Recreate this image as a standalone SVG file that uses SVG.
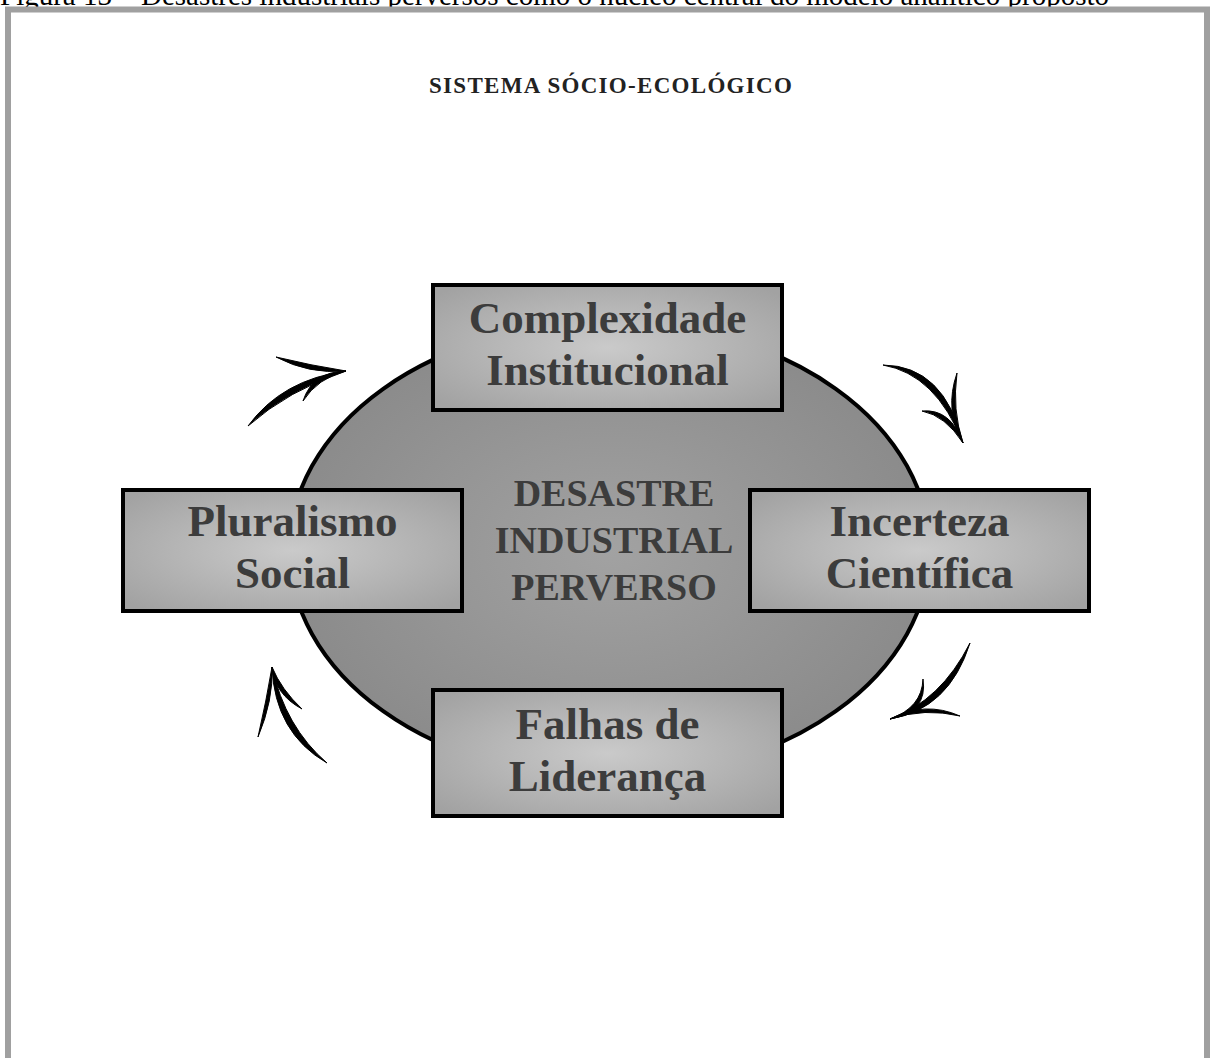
<svg xmlns="http://www.w3.org/2000/svg" width="1213" height="1058" viewBox="0 0 1213 1058">
  <defs>
    <radialGradient id="boxFill" cx="50%" cy="50%" r="65%">
      <stop offset="0" stop-color="#cacaca"/>
      <stop offset="1" stop-color="#a2a2a2"/>
    </radialGradient>
    <radialGradient id="coreFill" cx="50%" cy="50%" r="55%">
      <stop offset="0" stop-color="#a2a2a2"/>
      <stop offset="1" stop-color="#898989"/>
    </radialGradient>
    <style>
      .caption { font-family: "Liberation Serif", "Times New Roman", serif; font-size: 29px; fill: #000; }
      .title { font-family: "Liberation Serif", "Times New Roman", serif; font-size: 23px; font-weight: bold; fill: #222; letter-spacing: 1.3px; }
      .box { fill: url(#boxFill); stroke: #000; stroke-width: 4; }
      .label { font-family: "Liberation Serif", "Times New Roman", serif; font-size: 45px; font-weight: bold; fill: #3c3c3c; text-anchor: middle; }
      .core-label { font-family: "Liberation Serif", "Times New Roman", serif; font-size: 38px; font-weight: bold; fill: #3c3c3c; text-anchor: middle; }
      .arrow path { fill: #000; stroke: #000; stroke-width: 1; stroke-linejoin: round; }
    </style>
  </defs>

  <rect width="1213" height="1058" fill="#fff"/>

  <!-- caption line, cut by the top edge -->
  <text class="caption" x="0" y="5">Figura 13 – Desastres industriais perversos como o núcleo central do modelo analítico proposto</text>

  <!-- outer frame -->
  <rect x="8" y="9.5" width="1199" height="1100" fill="none" stroke="#a0a0a0" stroke-width="6"/>

  <text class="title" x="429" y="93">SISTEMA SÓCIO-ECOLÓGICO</text>

  <!-- central core -->
  <g id="core">
    <ellipse cx="609.5" cy="550" rx="320" ry="228" fill="url(#coreFill)" stroke="#000" stroke-width="4"/>
    <text class="core-label" x="614" y="506">DESASTRE</text>
    <text class="core-label" x="614" y="553">INDUSTRIAL</text>
    <text class="core-label" x="614" y="600">PERVERSO</text>
  </g>

  <!-- cycle arrows: tapered shafts with curved barbs -->
  <g id="connectors" class="arrow">
    <!-- top-left, pointing up-right -->
    <path d="M248,426 Q288,390.5 346,371 Q282,379.5 248,426 Z"/>
    <path d="M276,357 Q309,374.5 346,371 Q311,365.5 276,357 Z"/>
    <path d="M303,401 Q317.6,378.2 346,371 Q312.4,371.8 303,401 Z"/>
    <!-- top-right, pointing down-right -->
    <path d="M883,365 Q935.8,374.3 963,443 Q944.2,365.7 883,365 Z"/>
    <path d="M957,373 Q944,410.3 963,443 Q952,409.7 957,373 Z"/>
    <path d="M922,411 Q945.3,415.6 963,443 Q950.7,408.4 922,411 Z"/>
    <!-- bottom-right, pointing down-left -->
    <path d="M970,643 Q949.1,709.3 890,719 Q940.9,700.7 970,643 Z"/>
    <path d="M923,679 Q928,712.5 890,719 Q922,707.5 923,679 Z"/>
    <path d="M960,716 Q925,707.5 890,719 Q925,700.5 960,716 Z"/>
    <!-- bottom-left, pointing up -->
    <path d="M327,763 Q285.2,727 272,667 Q274.8,733 327,763 Z"/>
    <path d="M258,737 Q273.5,700 272,667 Q266.5,700 258,737 Z"/>
    <path d="M302,709 Q281.3,689.6 272,667 Q274.7,694.4 302,709 Z"/>
  </g>

  <g id="complexidade">
    <rect class="box" x="433" y="285" width="349" height="125"/>
    <text class="label" x="607.5" y="333">Complexidade</text>
    <text class="label" x="607.5" y="385">Institucional</text>
  </g>

  <g id="pluralismo">
    <rect class="box" x="123" y="490" width="339" height="121"/>
    <text class="label" x="292.5" y="536">Pluralismo</text>
    <text class="label" x="292.5" y="588">Social</text>
  </g>

  <g id="incerteza">
    <rect class="box" x="750" y="490" width="339" height="121"/>
    <text class="label" x="919.5" y="536">Incerteza</text>
    <text class="label" x="919.5" y="588">Científica</text>
  </g>

  <g id="falhas">
    <rect class="box" x="433" y="690" width="349" height="126"/>
    <text class="label" x="607.5" y="739">Falhas de</text>
    <text class="label" x="607.5" y="791">Liderança</text>
  </g>
</svg>
